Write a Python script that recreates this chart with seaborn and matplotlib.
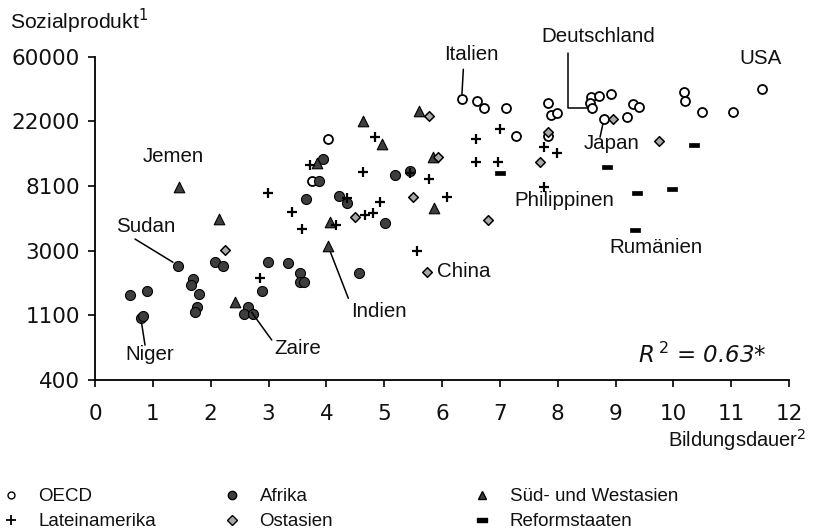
import numpy as np
import pandas as pd
import matplotlib
matplotlib.use("Agg")
import matplotlib.pyplot as plt
from matplotlib.lines import Line2D
from matplotlib.path import Path
from matplotlib.ticker import FixedLocator, FixedFormatter, NullLocator
import seaborn as sns

# --- Daten: durchschnittliche Bildungsdauer (Jahre) und Sozialprodukt je Einwohner ---
oecd_bildung = [4.03, 3.75, 6.34, 6.61, 6.72, 7.10, 7.83, 7.88, 7.98, 7.83, 7.28, 8.58, 8.72,
                8.92, 8.56, 8.60, 8.80, 9.19, 9.30, 9.41, 10.18, 10.20, 10.49, 11.04, 11.53]
oecd_bnp = [16800, 8800, 31300, 30300, 26900, 26900, 29400, 24300, 25100, 17700, 17700, 31900, 32500,
            33500, 29100, 26900, 22900, 23600, 28900, 27400, 34500, 30300, 25300, 25300, 36300]

afrika_bildung = [3.94, 3.87, 3.65, 4.21, 4.35, 5.19, 5.45, 5.01, 1.44, 0.61, 0.89, 0.79, 0.83,
                  1.69, 1.66, 1.80, 1.76, 1.73, 2.08, 2.22, 2.64, 2.57, 2.74, 2.88, 2.99, 3.34,
                  3.54, 3.54, 3.62, 4.56]
afrika_bnp = [12300, 8800, 6600, 6900, 6200, 9600, 10300, 4600, 2370, 1500, 1600, 1060, 1090,
              1920, 1740, 1530, 1250, 1160, 2520, 2370, 1250, 1120, 1120, 1600, 2520, 2470,
              2100, 1840, 1840, 2100]

asien_sw_bildung = [1.45, 2.15, 2.42, 3.84, 4.06, 4.03, 4.63, 4.97, 5.60, 5.85, 5.86]
asien_sw_bnp = [7940, 4870, 1350, 11500, 4680, 3200, 22200, 15500, 25800, 12700, 5770]

latein_bildung = [2.86, 2.99, 3.41, 3.58, 3.72, 4.16, 4.36, 4.63, 4.66, 4.80, 4.84, 4.92, 5.44,
                  5.57, 5.78, 6.09, 6.58, 6.58, 6.97, 7.00, 7.76, 7.98, 7.76]
latein_bnp = [1960, 7260, 5430, 4150, 11300, 4450, 6700, 10100, 5170, 5320, 17300, 6370, 9900,
              2950, 9050, 6840, 16800, 11800, 11800, 19500, 14800, 13500, 7940]

ostasien_bildung = [2.25, 4.49, 5.50, 5.78, 5.93, 5.74, 6.79, 7.69, 7.83, 8.96, 9.75]
ostasien_bnp = [3010, 5010, 6840, 24100, 12700, 2160, 4820, 11800, 18600, 22900, 16300]

reform_bildung = [7.00, 8.85, 9.37, 9.97, 9.34, 10.35]
reform_bnp = [9900, 10800, 7260, 7710, 4110, 15200]

gruppen = ["OECD", "Afrika", "Süd- und Westasien", "Lateinamerika", "Ostasien", "Reformstaaten"]

y_ticks = [float(np.exp(k)) for k in range(6, 12)]
y_tick_labels = ["400", "1100", "3000", "8100", "22000", "60000"]
x_ticks = list(range(0, 13))

r2_text = "0.63*"

df = pd.concat([
    pd.DataFrame({"gruppe": "OECD", "bildung": oecd_bildung, "bnp": oecd_bnp}),
    pd.DataFrame({"gruppe": "Afrika", "bildung": afrika_bildung, "bnp": afrika_bnp}),
    pd.DataFrame({"gruppe": "Süd- und Westasien", "bildung": asien_sw_bildung, "bnp": asien_sw_bnp}),
    pd.DataFrame({"gruppe": "Lateinamerika", "bildung": latein_bildung, "bnp": latein_bnp}),
    pd.DataFrame({"gruppe": "Ostasien", "bildung": ostasien_bildung, "bnp": ostasien_bnp}),
    pd.DataFrame({"gruppe": "Reformstaaten", "bildung": reform_bildung, "bnp": reform_bnp}),
], ignore_index=True)

# --- Stil ---
sns.set_style("ticks")
plt.rcParams["font.family"] = ["Liberation Sans", "DejaVu Sans"]
plt.rcParams["mathtext.fontset"] = "custom"
plt.rcParams["mathtext.rm"] = "DejaVu Sans"
plt.rcParams["mathtext.it"] = "DejaVu Sans:italic"

TXT = "#111111"

balken = Path([(-1, -0.45), (1, -0.45), (1, 0.45), (-1, 0.45), (-1, -0.45)],
              [Path.MOVETO, Path.LINETO, Path.LINETO, Path.LINETO, Path.CLOSEPOLY])

stil = {
    "OECD": dict(marker="o", s=42, color="white", edgecolor="black", linewidth=1.3),
    "Afrika": dict(marker="o", s=52, color="#3e3e3e", edgecolor="black", linewidth=0.8),
    "Süd- und Westasien": dict(marker="^", s=58, color="#3e3e3e", edgecolor="black", linewidth=0.8),
    "Lateinamerika": dict(marker="+", s=48, color="black", linewidth=1.6),
    "Ostasien": dict(marker="D", s=24, color="#a8a8a8", edgecolor="black", linewidth=1.1),
    "Reformstaaten": dict(marker=balken, s=58, color="black", edgecolor="black", linewidth=0.5),
}

fig = plt.figure(figsize=(8.13, 5.31), dpi=100)
ax = fig.add_axes([0.1169, 0.2844, 0.8536, 0.6088])

for g in gruppen:
    sub = df[df["gruppe"] == g]
    sns.scatterplot(data=sub, x="bildung", y="bnp", ax=ax, legend=False, zorder=3, **stil[g])

ax.set_yscale("log")
ax.set_ylim(y_ticks[0], y_ticks[-1])
ax.set_xlim(x_ticks[0], x_ticks[-1])
ax.yaxis.set_major_locator(FixedLocator(y_ticks))
ax.yaxis.set_major_formatter(FixedFormatter(y_tick_labels))
ax.yaxis.set_minor_locator(NullLocator())
ax.set_xticks(x_ticks)
ax.set_xlabel("")
ax.set_ylabel("")
for side in ("top", "right"):
    ax.spines[side].set_visible(False)
for side in ("left", "bottom"):
    ax.spines[side].set_color("black")
    ax.spines[side].set_linewidth(1.3)
ax.tick_params(axis="both", direction="out", length=5, width=1.2, color="black",
               labelsize=15.5, labelcolor=TXT)
ax.tick_params(axis="x", pad=12)
ax.tick_params(axis="y", pad=6)
for lbl in ax.get_xticklabels() + ax.get_yticklabels():
    lbl.set_fontfamily("DejaVu Sans")

# Achsentitel
fig.text(0.0123, 0.9605, "Sozialprodukt$^{1}$", fontsize=15.2, ha="left", va="center", color=TXT)
fig.text(0.9914, 0.171, "Bildungsdauer$^{2}$", fontsize=14.5, ha="right", va="center", color=TXT)

# Länderbeschriftungen
def punkt(gruppe, i):
    sub = df[df["gruppe"] == gruppe].reset_index(drop=True)
    return sub.loc[i, "bildung"], sub.loc[i, "bnp"]

lab_kw = dict(fontsize=14.8, color=TXT, transform=ax.transAxes, clip_on=False)
ax.text(0.1124, 0.690, "Jemen", ha="center", va="center", **lab_kw)
ax.text(0.0735, 0.476, "Sudan", ha="center", va="center", **lab_kw)
ax.text(0.0793, 0.0773, "Niger", ha="center", va="center", **lab_kw)
ax.text(0.2925, 0.0959, "Zaire", ha="center", va="center", **lab_kw)
ax.text(0.4097, 0.2113, "Indien", ha="center", va="center", **lab_kw)
ax.text(0.4924, 0.337, "China", ha="left", va="center", **lab_kw)
ax.text(0.5428, 1.0053, "Italien", ha="center", va="center", **lab_kw)
ax.text(0.7248, 1.061, "Deutschland", ha="center", va="center", **lab_kw)
ax.text(0.7445, 0.730, "Japan", ha="center", va="center", **lab_kw)
ax.text(0.6758, 0.5537, "Philippinen", ha="center", va="center", **lab_kw)
ax.text(0.8084, 0.4092, "Rumänien", ha="center", va="center", **lab_kw)
ax.text(0.9592, 0.995, "USA", ha="center", va="center", **lab_kw)

# Verbindungslinien zwischen Beschriftung und Punkt
line_kw = dict(arrowstyle="-", color="black", lw=1.1, shrinkA=0)
leader = [
    ("Afrika", 8, (0.0576, 0.436), 4.5, "arc3"),
    ("Afrika", 11, (0.072, 0.108), 4.0, "arc3"),
    ("Afrika", 20, (0.2546, 0.1237), 5.0, "arc3"),
    ("Süd- und Westasien", 5, (0.365, 0.2527), 5.0, "arc3"),
    ("OECD", 2, (0.5307, 0.961), 3.5, "arc3"),
    ("OECD", 15, (0.682, 1.0105), 4.0, "angle,angleA=-90,angleB=180,rad=0"),
    ("OECD", 16, (0.7277, 0.751), 3.5, "arc3"),
]
for g, i, start, shr, conn in leader:
    ax.annotate("", xy=punkt(g, i), xycoords="data", xytext=start, textcoords="axes fraction",
                arrowprops=dict(shrinkB=shr, connectionstyle=conn, **line_kw), annotation_clip=False)

ax.text(0.7829, 0.0773, r"$R^{\,2}$ = " + r2_text, fontsize=16.5, style="italic", family="DejaVu Sans",
        ha="left", va="center", transform=ax.transAxes, color=TXT)

# Legende in drei Spalten
def handle(g, ms):
    st = stil[g]
    m = st["marker"]
    if g == "Lateinamerika":
        return Line2D([], [], linestyle="none", marker=m, markersize=ms, color="black",
                      markeredgewidth=1.3)
    return Line2D([], [], linestyle="none", marker=m, markersize=ms, markerfacecolor=st["color"],
                  markeredgecolor="black", markeredgewidth=1.0)

groessen = {"OECD": 5, "Afrika": 6, "Süd- und Westasien": 6, "Lateinamerika": 7,
            "Ostasien": 5, "Reformstaaten": 7}
spalten = [(["OECD", "Lateinamerika"], 2), (["Afrika", "Ostasien"], 223),
           (["Süd- und Westasien", "Reformstaaten"], 473)]
for eintraege, x0 in spalten:
    fig.legend([handle(g, groessen[g]) for g in eintraege], eintraege, loc="upper left",
               bbox_to_anchor=(x0 / 813, 1 - 488 / 531), frameon=False,
               handlelength=1.0, handletextpad=0.95, labelspacing=0.43, borderpad=0,
               borderaxespad=0, labelcolor=TXT, prop={"size": 13.5})

fig.savefig("out.png", dpi=100)
